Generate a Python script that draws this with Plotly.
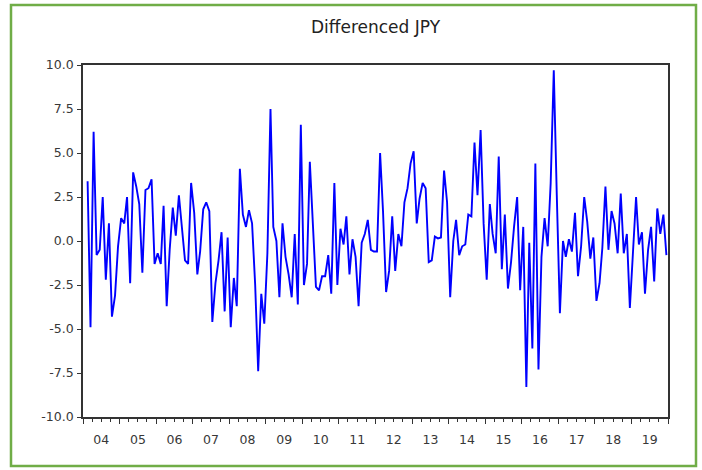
import pandas as pd
import plotly.graph_objects as go

# Month-over-month change of the JPY exchange rate, Feb 2004 .. Dec 2019
months = pd.date_range("2004-02-01", "2019-12-01", freq="MS") + pd.Timedelta(days=15)

d_jpy = [
    # 2004 (Feb-Dec)
    3.4, -4.9, 6.2, -0.8, -0.5, 2.5, -2.2, 1.0, -4.3, -3.1, -0.3,
    # 2005
    1.3, 1.0, 2.5, -2.4, 3.9, 3.1, 2.1, -1.8, 2.9, 3.0, 3.5, -1.3,
    # 2006
    -0.7, -1.3, 2.0, -3.7, -0.5, 1.9, 0.3, 2.6, 0.6, -1.1, -1.3, 3.3,
    # 2007
    1.6, -1.9, -0.6, 1.8, 2.2, 1.7, -4.6, -2.4, -1.1, 0.5, -4.0, 0.2,
    # 2008
    -4.9, -2.1, -3.7, 4.1, 1.5, 0.8, 1.75, 1.0, -2.5, -7.4, -3.0, -4.7,
    # 2009
    -0.7, 7.5, 0.8, 0.0, -3.2, 1.0, -0.9, -1.9, -3.2, 0.4, -3.6, 6.6,
    # 2010
    -2.5, -1.3, 4.5, 0.8, -2.6, -2.8, -2.0, -2.0, -0.8, -3.0, 3.3, -2.5,
    # 2011
    0.7, -0.2, 1.4, -1.9, 0.1, -0.9, -3.7, -0.1, 0.4, 1.2, -0.5, -0.6,
    # 2012
    -0.6, 5.0, 1.7, -2.9, -1.7, 1.4, -1.7, 0.4, -0.3, 2.2, 3.0, 4.4,
    # 2013
    5.1, 1.0, 2.4, 3.3, 3.0, -1.2, -1.1, 0.25, 0.15, 0.2, 4.0, 2.2,
    # 2014
    -3.2, 0.0, 1.2, -0.8, -0.3, -0.2, 1.5, 1.4, 5.6, 2.6, 6.3, 1.0,
    # 2015
    -2.2, 2.1, 0.4, -0.7, 4.8, -1.6, 1.5, -2.7, -1.2, 0.8, 2.5, -2.8,
    # 2016
    0.8, -8.3, -0.1, -6.1, 4.4, -7.3, -0.9, 1.3, -0.3, 3.3, 9.7, 2.6,
    # 2017
    -4.1, 0.0, -0.9, 0.1, -0.6, 1.6, -2.0, -0.3, 2.5, 1.1, -1.0, 0.2,
    # 2018
    -3.4, -2.4, -0.4, 3.1, -0.5, 1.7, 1.0, -0.7, 2.7, -0.7, 0.4, -3.8,
    # 2019
    -0.9, 2.5, -0.2, 0.5, -3.0, -0.5, 0.8, -2.3, 1.85, 0.4, 1.5, -0.8,
]

y_tick_values = [10.0, 7.5, 5.0, 2.5, 0.0, -2.5, -5.0, -7.5, -10.0]
y_tick_labels = [f"{v:.1f}" for v in y_tick_values]

FONT = "DejaVu Sans, Verdana, sans-serif"
AXIS_COLOR = "#333333"
TEXT_COLOR = "#383838"

fig = go.Figure()
fig.add_trace(go.Scatter(
    x=months, y=d_jpy, mode="lines",
    line=dict(color="#0000FF", width=1.9),
    showlegend=False, hoverinfo="x+y",
))

W, H = 702, 470
L, R, T, B = 83, 34, 65, 53
pw, ph = W - L - R, H - T - B


def px_x(v):
    return (v - L) / pw


def px_y(v):
    return (H - B - v) / ph


fig.update_layout(
    width=W, height=H,
    margin=dict(l=L, r=R, t=T, b=B),
    paper_bgcolor="white", plot_bgcolor="white",
    font=dict(family=FONT, size=12, color=TEXT_COLOR),
    title=dict(
        text="Differenced JPY", x=0.5, xref="paper", xanchor="center",
        y=1 - 27 / H, yref="container", yanchor="middle",
        font=dict(family=FONT, size=17, color="#222222"),
    ),
    xaxis=dict(
        type="date", range=["2004-01-01", "2020-01-01"],
        tick0="2004-01-01", dtick="M12", tickformat="%y",
        ticklabelmode="period", ticks="outside", ticklen=5, tickwidth=1,
        tickcolor=AXIS_COLOR,
        minor=dict(dtick="M3", tick0="2004-01-01", ticks="outside",
                   ticklen=3, tickwidth=1, tickcolor=AXIS_COLOR, showgrid=False),
        showline=True, linecolor=AXIS_COLOR, linewidth=1.6, mirror=True,
        showgrid=False, zeroline=False,
        tickfont=dict(family=FONT, size=12.5, color=TEXT_COLOR),
        ticklabelstandoff=5,
    ),
    yaxis=dict(
        range=[-10, 10], tickvals=y_tick_values, ticktext=y_tick_labels,
        ticks="outside", ticklen=4, tickwidth=1, tickcolor=AXIS_COLOR,
        showline=True, linecolor=AXIS_COLOR, linewidth=1.6, mirror=True,
        showgrid=False, zeroline=False,
        tickfont=dict(family=FONT, size=12.5, color=TEXT_COLOR),
        ticklabelstandoff=1,
    ),
    shapes=[dict(
        type="rect", xref="paper", yref="paper",
        x0=px_x(11), x1=px_x(696), y0=px_y(466), y1=px_y(5),
        line=dict(color="#70AD47", width=2.5), fillcolor="rgba(0,0,0,0)",
        layer="below",
    )],
)

fig.write_html("out.html")
